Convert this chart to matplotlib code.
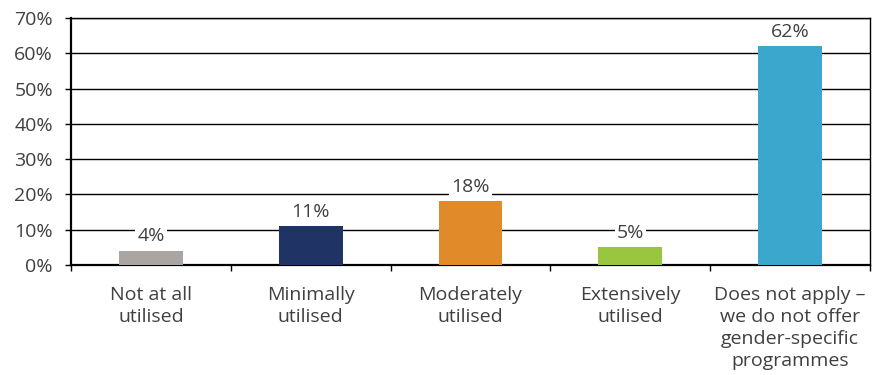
import matplotlib.pyplot as plt
import numpy as np

plt.rcParams['font.family'] = ['Open Sans', 'DejaVu Sans']

categories = ['Not at all\nutilised', 'Minimally\nutilised', 'Moderately\nutilised',
              'Extensively\nutilised', 'Does not apply –\nwe do not offer\ngender-specific\nprogrammes']
values = [4, 11, 18, 5, 62]
bar_colors = ['#aba5a2', '#1f3364', '#e08a2a', '#9ac63f', '#3ba7cd']
text_color = '#404040'

fig = plt.figure(figsize=(8.73, 3.75), dpi=100)
ax = fig.add_axes([0.0813, 0.2933, 0.9153, 0.6587])

x = np.arange(len(categories))
ax.bar(x, values, width=0.4, color=bar_colors, zorder=3)

# value labels with a white box so the gridline is broken behind them
for xi, v in zip(x, values):
    ax.annotate('%d%%' % v, (xi, v), xytext=(0, 4), textcoords='offset points',
                ha='center', va='bottom', fontsize=14, color=text_color, zorder=4,
                bbox=dict(boxstyle='square,pad=0.1', fc='white', ec='none'))

ax.set_xlim(-0.5, len(categories) - 0.5)
ax.set_ylim(0, 70)
ax.set_yticks(range(0, 71, 10))
ax.set_yticklabels(['%d%%' % t for t in range(0, 71, 10)], fontsize=14, color=text_color)
ax.yaxis.grid(True, color='black', linewidth=1.0, zorder=0)

ax.set_xticks(x)
ax.set_xticklabels(categories, fontsize=14, color=text_color, linespacing=1.3)
ax.set_xticks(np.arange(-0.5, len(categories), 1.0), minor=True)
ax.tick_params(axis='x', which='major', length=0, pad=15)
ax.tick_params(axis='x', which='minor', length=4, width=1, color='black')
ax.tick_params(axis='y', length=4, width=1, color='black', pad=9)

for s in ['left', 'bottom']:
    ax.spines[s].set_linewidth(1.6)
    ax.spines[s].set_color('black')
ax.spines['right'].set_linewidth(1.0)
ax.spines['top'].set_linewidth(1.0)

fig.savefig('out.png', dpi=100)
